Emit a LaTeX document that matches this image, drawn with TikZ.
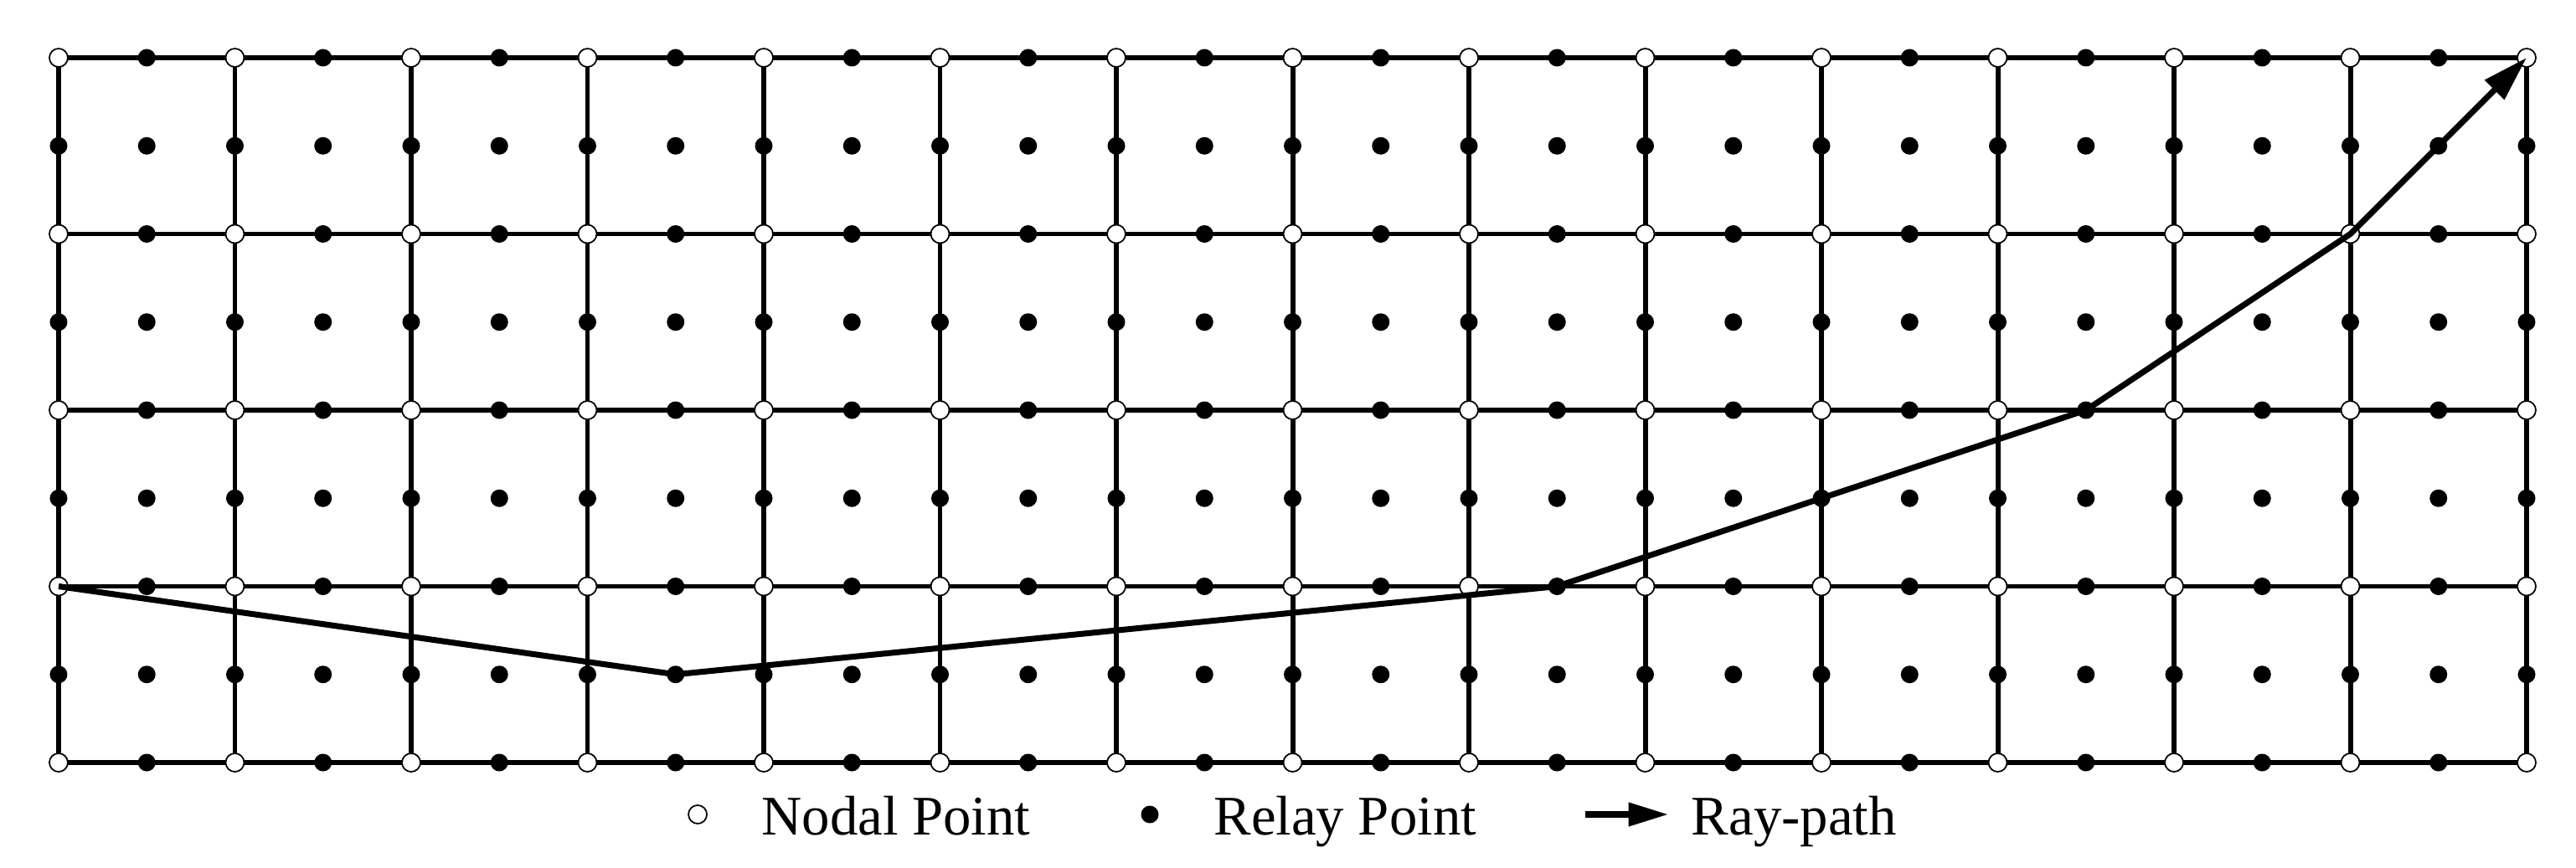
\documentclass[tikz,border=0pt]{standalone}
\usepackage{fontspec}
\setmainfont{Liberation Serif}
\usetikzlibrary{arrows.meta, positioning}

\begin{document}
\begin{tikzpicture}[
    x=2.105cm, y=2.105cm,
    % 1. Malla de celdas
    gridline/.style={line width=1.7pt, black},
    % 2. Puntos nodales (blancos) y de relevo (negros)
    nodal/.style={circle, draw=black, fill=white, line width=0.5pt,
        inner sep=0pt, minimum size=0.22cm},
    relay/.style={circle, fill=black, inner sep=0pt, minimum size=0.21cm},
    % 3. Trayectoria del rayo
    raypath/.style={-{Triangle[length=15.5pt, width=9pt]}, line width=2pt, black},
    legarrow/.style={-{Triangle[length=13.5pt, width=7.7pt]}, line width=2pt, black},
    % 4. Texto de la leyenda
    legtext/.style={font=\fontsize{19}{22}\selectfont, anchor=base west, inner sep=0pt}
]
    \useasboundingbox (-0.3325,-0.5938) rectangle (14.2803,4.3278);

    % --- MALLA ---
    \foreach \i in {0,...,14} \draw[gridline] (\i,0) -- (\i,4);
    \foreach \j in {0,...,4} \draw[gridline] (0,\j) -- (14,\j);

    % --- PUNTOS DE RELEVO ---
    \foreach \i in {0,...,14} \foreach \j in {0,...,3}
        \node[relay] (v\i-\j) at (\i,\j+0.5) {};
    \foreach \i in {0,...,13} \foreach \j in {0,...,4}
        \node[relay] (h\i-\j) at (\i+0.5,\j) {};
    \foreach \i in {0,...,13} \foreach \j in {0,...,3}
        \node[relay] (c\i-\j) at (\i+0.5,\j+0.5) {};

    % --- PUNTOS NODALES ---
    \foreach \i in {0,...,14} \foreach \j in {0,...,4}
        \node[nodal] (n\i-\j) at (\i,\j) {};

    % --- RAYO ---
    \draw[raypath] (n0-1.center) -- (c3-0.center) -- (h8-1.center)
        -- (h11-2.center) -- (n13-3.center) -- (n14-4.center);

    % --- LEYENDA ---
    \node[nodal] (lnodal) at (3.625,-0.2945) {};
    \node[legtext] (tnodal) at (3.985,-0.4086) {Nodal Point};
    \node[relay] (lrelay) at (6.19,-0.2945) {};
    \node[legtext] (trelay) at (6.55,-0.4086) {Relay Point};
    \coordinate (lray0) at (8.66,-0.2945);
    \coordinate (lray1) at (9.131,-0.2945);
    \draw[legarrow] (lray0) -- (lray1);
    \node[legtext] (tray) at (9.26,-0.4086) {Ray-path};

\end{tikzpicture}
\end{document}
